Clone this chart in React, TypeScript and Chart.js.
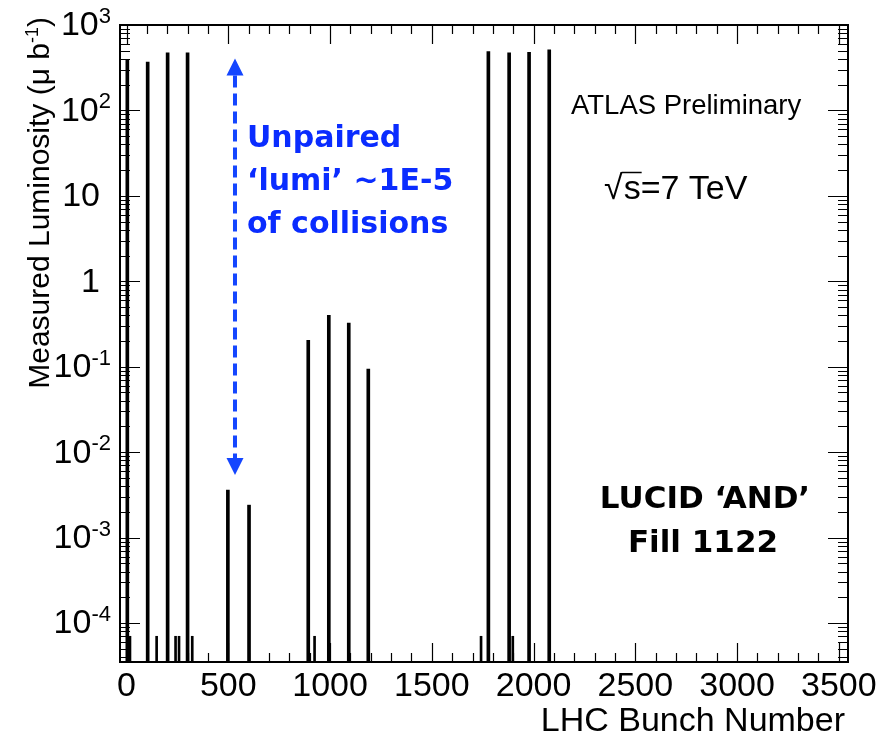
import React, { useEffect, useRef } from "react";
import { Chart, registerables } from "chart.js";

Chart.register(...registerables);

// ---- axis ranges ----
const X_MIN = -32;
const X_MAX = 3545;
const Y_MIN = 3.5e-5;
const Y_MAX = 1000;

// ---- data (bunch number, measured luminosity in μb^-1) ----
const collidingBunches = [4, 104, 202, 300, 1778, 1880, 1978, 2077];
const collidingLumi = [390, 367, 473, 473, 490, 473, 480, 512];

const unpairedBunches = [498, 602, 893, 994, 1092, 1188];
const unpairedLumi = [0.0036, 0.0024, 0.204, 0.4, 0.325, 0.094];

const noiseBunches = [17, 148, 241, 258, 323, 924, 1742, 1898];
const noiseLumi = [7e-5, 7e-5, 7e-5, 7e-5, 7e-5, 7e-5, 7e-5, 7e-5];

// ---- tick labels ----
const xTickValues = [0, 500, 1000, 1500, 2000, 2500, 3000, 3500];
const xTickLabels = ["0", "500", "1000", "1500", "2000", "2500", "3000", "3500"];
const yTickValues = [1e-4, 1e-3, 1e-2, 1e-1, 1, 10, 100, 1000];
const yTickBase = ["10", "10", "10", "10", "1", "10", "10", "10"];
const yTickExp = ["-4", "-3", "-2", "-1", "", "", "2", "3"];

// ---- annotation anchors (data coordinates) ----
const arrowBunch = 533;
const arrowTopLumi = 405;
const arrowBottomLumi = 5.4e-3;

const SANS = '"Liberation Sans", Arial, Helvetica, sans-serif';
const BOLD = '"DejaVu Sans", "Noto Sans", sans-serif';

function toPoints(xs: number[], ys: number[]) {
  return xs.map((x, i) => ({ x, y: ys[i] }));
}

const atlasPlugin = {
  id: "atlasDecor",
  afterDraw(chart: any) {
    const ctx: CanvasRenderingContext2D = chart.ctx;
    const { left, right, top, bottom } = chart.chartArea;
    const xs = chart.scales.x;
    const ys = chart.scales.y;
    ctx.save();

    // --- ticks (ROOT style, inward, on all four sides) ---
    ctx.strokeStyle = "#000";
    ctx.lineWidth = 1.2;
    ctx.beginPath();
    for (let v = 0; v <= 3500; v += 100) {
      const px = Math.round(xs.getPixelForValue(v)) + 0.5;
      const len = v % 500 === 0 ? 19 : 9;
      ctx.moveTo(px, bottom);
      ctx.lineTo(px, bottom - len);
      ctx.moveTo(px, top);
      ctx.lineTo(px, top + len);
    }
    for (let d = -5; d <= 3; d++) {
      for (let k = 1; k <= 9; k++) {
        const v = k * Math.pow(10, d);
        if (v < Y_MIN * 0.999 || v > Y_MAX * 1.001) continue;
        const py = Math.round(ys.getPixelForValue(v)) + 0.5;
        const len = k === 1 ? 20 : 10;
        ctx.moveTo(left, py);
        ctx.lineTo(left + len, py);
        ctx.moveTo(right, py);
        ctx.lineTo(right - len, py);
      }
    }
    ctx.stroke();

    // --- frame ---
    ctx.lineWidth = 2;
    ctx.strokeRect(left, top, right - left, bottom - top);

    // --- x tick labels ---
    ctx.fillStyle = "#000";
    ctx.font = `34px ${SANS}`;
    ctx.textAlign = "center";
    ctx.textBaseline = "middle";
    xTickValues.forEach((v, i) => {
      ctx.fillText(xTickLabels[i], xs.getPixelForValue(v), 687);
    });

    // --- y tick labels ---
    yTickValues.forEach((v, i) => {
      const py = ys.getPixelForValue(v);
      const base = yTickBase[i];
      const exp = yTickExp[i];
      ctx.textBaseline = "middle";
      if (!exp) {
        ctx.font = `34px ${SANS}`;
        ctx.textAlign = "right";
        ctx.fillText(base, 100, py + 1);
      } else {
        ctx.font = `22px ${SANS}`;
        const ew = ctx.measureText(exp).width;
        ctx.textAlign = "right";
        ctx.textBaseline = "alphabetic";
        ctx.fillText(exp, 111, py - 2);
        ctx.font = `34px ${SANS}`;
        ctx.textBaseline = "middle";
        ctx.fillText(base, 111 - ew, py + 1);
      }
    });

    // --- x axis title ---
    ctx.font = `34px ${SANS}`;
    ctx.textAlign = "right";
    ctx.textBaseline = "alphabetic";
    ctx.fillText("LHC Bunch Number", 845, 731);

    // --- y axis title (rotated) ---
    ctx.save();
    ctx.translate(49, 17);
    ctx.rotate(-Math.PI / 2);
    ctx.textBaseline = "alphabetic";
    ctx.textAlign = "right";
    ctx.font = `30px ${SANS}`;
    const closeW = ctx.measureText(")").width;
    ctx.fillText(")", 0, 0);
    ctx.font = `18px ${SANS}`;
    const supW = ctx.measureText("-1").width;
    ctx.fillText("-1", -closeW, -11);
    ctx.font = `30px ${SANS}`;
    ctx.fillText("Measured Luminosity (\u03bc b", -closeW - supW, 0);
    ctx.restore();

    // --- ATLAS Preliminary ---
    ctx.font = `27.5px ${SANS}`;
    ctx.textAlign = "left";
    ctx.textBaseline = "alphabetic";
    ctx.fillText("ATLAS Preliminary", 571, 114);

    // --- sqrt(s) = 7 TeV ---
    ctx.font = `34px ${SANS}`;
    const rootW = ctx.measureText("\u221a").width;
    ctx.fillText("\u221a", 604, 199);
    const sW = ctx.measureText("s").width;
    ctx.fillText("s=7 TeV", 604 + rootW + 1, 199);
    ctx.lineWidth = 1.5;
    ctx.beginPath();
    ctx.moveTo(604 + rootW - 1, 172.5);
    ctx.lineTo(604 + rootW + sW + 2, 172.5);
    ctx.stroke();

    // --- blue dashed double arrow ---
    const ax = xs.getPixelForValue(arrowBunch);
    const ay1 = ys.getPixelForValue(arrowTopLumi);
    const ay2 = ys.getPixelForValue(arrowBottomLumi);
    ctx.strokeStyle = "#1446ff";
    ctx.fillStyle = "#1446ff";
    ctx.lineWidth = 4;
    ctx.setLineDash([12, 6]);
    ctx.beginPath();
    ctx.moveTo(ax, ay1 + 17);
    ctx.lineTo(ax, ay2 - 17);
    ctx.stroke();
    ctx.setLineDash([]);
    ctx.beginPath();
    ctx.moveTo(ax, ay1);
    ctx.lineTo(ax - 8.5, ay1 + 17);
    ctx.lineTo(ax + 8.5, ay1 + 17);
    ctx.closePath();
    ctx.fill();
    ctx.beginPath();
    ctx.moveTo(ax, ay2);
    ctx.lineTo(ax - 8.5, ay2 - 17);
    ctx.lineTo(ax + 8.5, ay2 - 17);
    ctx.closePath();
    ctx.fill();

    // --- blue annotation text ---
    ctx.fillStyle = "#0a2cff";
    ctx.font = `bold 30px ${BOLD}`;
    ctx.textAlign = "left";
    ctx.fillText("Unpaired", 247, 147);
    ctx.fillText("\u2018lumi\u2019 ~1E-5", 247, 190);
    ctx.fillText("of collisions", 247, 233);

    // --- LUCID label ---
    ctx.fillStyle = "#000";
    ctx.font = `bold 31px ${BOLD}`;
    ctx.textAlign = "center";
    ctx.fillText("LUCID \u2018AND\u2019", 705, 508);
    ctx.fillText("Fill 1122", 703, 552);

    ctx.restore();
  },
};

export default function App() {
  const canvasRef = useRef<HTMLCanvasElement>(null);

  useEffect(() => {
    const canvas = canvasRef.current;
    if (!canvas) return;
    const chart = new Chart(canvas, {
      type: "bar",
      data: {
        datasets: [
          {
            label: "colliding",
            data: toPoints(collidingBunches, collidingLumi) as any,
            backgroundColor: "#000",
            borderWidth: 0,
            barThickness: 3,
            grouped: false,
          },
          {
            label: "unpaired",
            data: toPoints(unpairedBunches, unpairedLumi) as any,
            backgroundColor: "#000",
            borderWidth: 0,
            barThickness: 3,
            grouped: false,
          },
          {
            label: "noise",
            data: toPoints(noiseBunches, noiseLumi) as any,
            backgroundColor: "#000",
            borderWidth: 0,
            barThickness: 2,
            grouped: false,
          },
        ] as any,
      },
      options: {
        responsive: false,
        maintainAspectRatio: false,
        animation: false,
        devicePixelRatio: 1,
        layout: { padding: { left: 120, top: 25, right: 47, bottom: 74 } },
        plugins: {
          legend: { display: false },
          tooltip: { enabled: false },
          title: { display: false },
        },
        scales: {
          x: {
            type: "linear",
            min: X_MIN,
            max: X_MAX,
            offset: false,
            display: false,
            grid: { offset: false },
          },
          y: { type: "logarithmic", min: Y_MIN, max: Y_MAX, display: false },
        },
      } as any,
      plugins: [atlasPlugin],
    });
    return () => chart.destroy();
  }, []);

  return (
    <div
      style={{
        position: "absolute",
        left: 0,
        top: 0,
        width: 895,
        height: 736,
        background: "#fff",
      }}
    >
      <canvas ref={canvasRef} width={895} height={736} style={{ display: "block" }} />
    </div>
  );
}
